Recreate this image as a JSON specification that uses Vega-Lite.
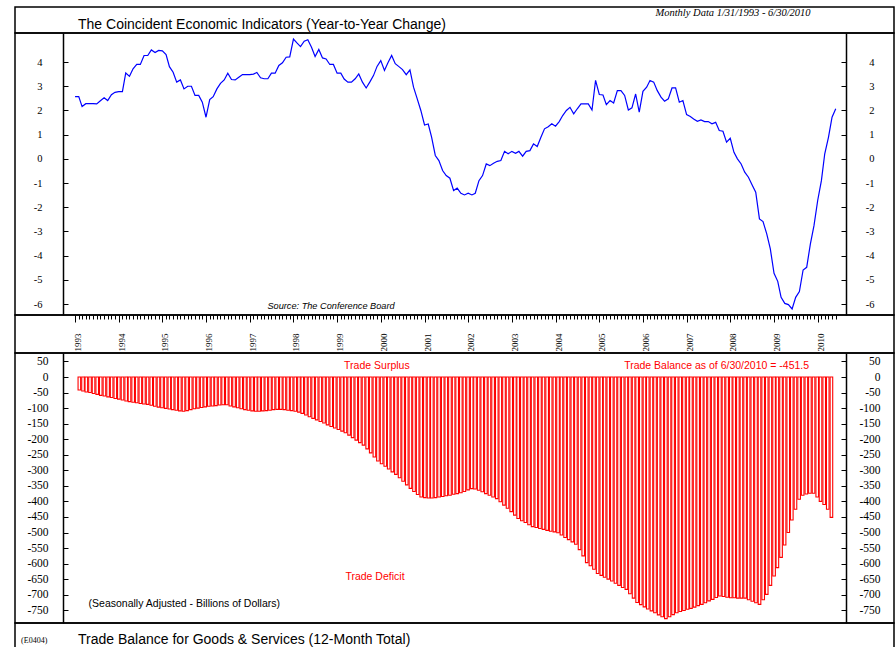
{
 "$schema": "https://vega.github.io/schema/vega-lite/v6.json",
 "background": "white",
 "padding": {"left": 14, "top": 6, "right": 0, "bottom": 0},
 "autosize": {"type": "pad"},
 "spacing": 0,
 "bounds": "flush",
 "resolve": {"scale": {"x": "independent", "y": "independent"}},
 "config": {
  "view": {"stroke": "black", "strokeWidth": 1.5},
  "font": "Liberation Sans",
  "axis": {"grid": false, "domain": false, "labelColor": "black", "tickColor": "black", "title": null, "labelOverlap": false}
 },
 "datasets": {"rows": [
{"d":"1993-01-01","c":2.57,"t":-42},{"d":"1993-02-01","c":2.57,"t":-45},{"d":"1993-03-01","c":2.16,"t":-48},{"d":"1993-04-01","c":2.28,"t":-50},{"d":"1993-05-01","c":2.28,"t":-53},{"d":"1993-06-01","c":2.28,"t":-56},{"d":"1993-07-01","c":2.27,"t":-59},{"d":"1993-08-01","c":2.40,"t":-61},{"d":"1993-09-01","c":2.52,"t":-64},{"d":"1993-10-01","c":2.41,"t":-66},{"d":"1993-11-01","c":2.65,"t":-69},{"d":"1993-12-01","c":2.75,"t":-71},
{"d":"1994-01-01","c":2.78,"t":-74},{"d":"1994-02-01","c":2.78,"t":-77},{"d":"1994-03-01","c":3.55,"t":-79},{"d":"1994-04-01","c":3.41,"t":-81},{"d":"1994-05-01","c":3.72,"t":-83},{"d":"1994-06-01","c":3.90,"t":-85},{"d":"1994-07-01","c":3.90,"t":-87},{"d":"1994-08-01","c":4.27,"t":-88},{"d":"1994-09-01","c":4.27,"t":-91},{"d":"1994-10-01","c":4.50,"t":-94},{"d":"1994-11-01","c":4.39,"t":-97},{"d":"1994-12-01","c":4.48,"t":-99},
{"d":"1995-01-01","c":4.46,"t":-101},{"d":"1995-02-01","c":4.31,"t":-103},{"d":"1995-03-01","c":3.81,"t":-105},{"d":"1995-04-01","c":3.58,"t":-107},{"d":"1995-05-01","c":3.17,"t":-109},{"d":"1995-06-01","c":3.26,"t":-110},{"d":"1995-07-01","c":2.89,"t":-108},{"d":"1995-08-01","c":3.00,"t":-105},{"d":"1995-09-01","c":3.00,"t":-102},{"d":"1995-10-01","c":2.62,"t":-100},{"d":"1995-11-01","c":2.62,"t":-98},{"d":"1995-12-01","c":2.34,"t":-96},
{"d":"1996-01-01","c":1.72,"t":-94},{"d":"1996-02-01","c":2.45,"t":-93},{"d":"1996-03-01","c":2.57,"t":-92},{"d":"1996-04-01","c":2.89,"t":-90},{"d":"1996-05-01","c":3.12,"t":-89},{"d":"1996-06-01","c":3.26,"t":-89},{"d":"1996-07-01","c":3.54,"t":-93},{"d":"1996-08-01","c":3.28,"t":-96},{"d":"1996-09-01","c":3.26,"t":-99},{"d":"1996-10-01","c":3.37,"t":-102},{"d":"1996-11-01","c":3.48,"t":-105},{"d":"1996-12-01","c":3.48,"t":-107},
{"d":"1997-01-01","c":3.48,"t":-109},{"d":"1997-02-01","c":3.50,"t":-110},{"d":"1997-03-01","c":3.57,"t":-110},{"d":"1997-04-01","c":3.35,"t":-109},{"d":"1997-05-01","c":3.31,"t":-108},{"d":"1997-06-01","c":3.31,"t":-107},{"d":"1997-07-01","c":3.54,"t":-105},{"d":"1997-08-01","c":3.54,"t":-104},{"d":"1997-09-01","c":3.86,"t":-104},{"d":"1997-10-01","c":3.97,"t":-105},{"d":"1997-11-01","c":4.20,"t":-107},{"d":"1997-12-01","c":4.21,"t":-108},
{"d":"1998-01-01","c":4.95,"t":-110},{"d":"1998-02-01","c":4.78,"t":-113},{"d":"1998-03-01","c":4.64,"t":-117},{"d":"1998-04-01","c":4.86,"t":-122},{"d":"1998-05-01","c":4.92,"t":-128},{"d":"1998-06-01","c":4.61,"t":-133},{"d":"1998-07-01","c":4.23,"t":-138},{"d":"1998-08-01","c":4.52,"t":-143},{"d":"1998-09-01","c":4.17,"t":-148},{"d":"1998-10-01","c":4.13,"t":-154},{"d":"1998-11-01","c":3.90,"t":-159},{"d":"1998-12-01","c":3.90,"t":-164},
{"d":"1999-01-01","c":3.54,"t":-169},{"d":"1999-02-01","c":3.54,"t":-174},{"d":"1999-03-01","c":3.30,"t":-179},{"d":"1999-04-01","c":3.17,"t":-187},{"d":"1999-05-01","c":3.17,"t":-195},{"d":"1999-06-01","c":3.31,"t":-203},{"d":"1999-07-01","c":3.51,"t":-211},{"d":"1999-08-01","c":3.17,"t":-219},{"d":"1999-09-01","c":2.93,"t":-231},{"d":"1999-10-01","c":3.17,"t":-244},{"d":"1999-11-01","c":3.44,"t":-257},{"d":"1999-12-01","c":3.82,"t":-270},
{"d":"2000-01-01","c":4.06,"t":-279},{"d":"2000-02-01","c":3.65,"t":-287},{"d":"2000-03-01","c":3.97,"t":-296},{"d":"2000-04-01","c":4.27,"t":-305},{"d":"2000-05-01","c":3.93,"t":-313},{"d":"2000-06-01","c":3.81,"t":-324},{"d":"2000-07-01","c":3.69,"t":-335},{"d":"2000-08-01","c":3.48,"t":-347},{"d":"2000-09-01","c":3.68,"t":-358},{"d":"2000-10-01","c":2.96,"t":-368},{"d":"2000-11-01","c":2.48,"t":-378},{"d":"2000-12-01","c":2.00,"t":-386},
{"d":"2001-01-01","c":1.40,"t":-388},{"d":"2001-02-01","c":1.44,"t":-389},{"d":"2001-03-01","c":0.90,"t":-389},{"d":"2001-04-01","c":0.14,"t":-388},{"d":"2001-05-01","c":-0.07,"t":-386},{"d":"2001-06-01","c":-0.48,"t":-384},{"d":"2001-07-01","c":-0.69,"t":-382},{"d":"2001-08-01","c":-0.80,"t":-380},{"d":"2001-09-01","c":-1.31,"t":-377},{"d":"2001-10-01","c":-1.21,"t":-375},{"d":"2001-11-01","c":-1.42,"t":-372},{"d":"2001-12-01","c":-1.49,"t":-368},
{"d":"2002-01-01","c":-1.42,"t":-363},{"d":"2002-02-01","c":-1.49,"t":-359},{"d":"2002-03-01","c":-1.42,"t":-360},{"d":"2002-04-01","c":-0.90,"t":-364},{"d":"2002-05-01","c":-0.69,"t":-369},{"d":"2002-06-01","c":-0.21,"t":-375},{"d":"2002-07-01","c":-0.28,"t":-380},{"d":"2002-08-01","c":-0.18,"t":-386},{"d":"2002-09-01","c":-0.10,"t":-391},{"d":"2002-10-01","c":-0.07,"t":-401},{"d":"2002-11-01","c":0.31,"t":-412},{"d":"2002-12-01","c":0.21,"t":-422},
{"d":"2003-01-01","c":0.31,"t":-433},{"d":"2003-02-01","c":0.23,"t":-444},{"d":"2003-03-01","c":0.31,"t":-455},{"d":"2003-04-01","c":0.11,"t":-462},{"d":"2003-05-01","c":0.31,"t":-468},{"d":"2003-06-01","c":0.34,"t":-475},{"d":"2003-07-01","c":0.62,"t":-481},{"d":"2003-08-01","c":0.51,"t":-484},{"d":"2003-09-01","c":0.89,"t":-487},{"d":"2003-10-01","c":1.24,"t":-490},{"d":"2003-11-01","c":1.33,"t":-493},{"d":"2003-12-01","c":1.45,"t":-496},
{"d":"2004-01-01","c":1.35,"t":-498},{"d":"2004-02-01","c":1.54,"t":-501},{"d":"2004-03-01","c":1.79,"t":-508},{"d":"2004-04-01","c":2.00,"t":-516},{"d":"2004-05-01","c":2.13,"t":-523},{"d":"2004-06-01","c":1.86,"t":-530},{"d":"2004-07-01","c":2.07,"t":-538},{"d":"2004-08-01","c":2.27,"t":-555},{"d":"2004-09-01","c":2.27,"t":-575},{"d":"2004-10-01","c":2.27,"t":-597},{"d":"2004-11-01","c":2.02,"t":-607},{"d":"2004-12-01","c":3.24,"t":-618},
{"d":"2005-01-01","c":2.66,"t":-632},{"d":"2005-02-01","c":2.64,"t":-638},{"d":"2005-03-01","c":2.24,"t":-644},{"d":"2005-04-01","c":2.41,"t":-650},{"d":"2005-05-01","c":2.31,"t":-656},{"d":"2005-06-01","c":2.82,"t":-663},{"d":"2005-07-01","c":2.82,"t":-670},{"d":"2005-08-01","c":2.62,"t":-677},{"d":"2005-09-01","c":2.02,"t":-683},{"d":"2005-10-01","c":2.11,"t":-697},{"d":"2005-11-01","c":2.68,"t":-711},{"d":"2005-12-01","c":1.93,"t":-725},
{"d":"2006-01-01","c":2.79,"t":-732},{"d":"2006-02-01","c":2.96,"t":-739},{"d":"2006-03-01","c":3.24,"t":-746},{"d":"2006-04-01","c":3.17,"t":-752},{"d":"2006-05-01","c":2.82,"t":-758},{"d":"2006-06-01","c":2.55,"t":-765},{"d":"2006-07-01","c":2.38,"t":-771},{"d":"2006-08-01","c":2.48,"t":-777},{"d":"2006-09-01","c":2.93,"t":-771},{"d":"2006-10-01","c":2.93,"t":-764},{"d":"2006-11-01","c":2.34,"t":-758},{"d":"2006-12-01","c":2.41,"t":-754},
{"d":"2007-01-01","c":1.83,"t":-751},{"d":"2007-02-01","c":1.75,"t":-747},{"d":"2007-03-01","c":1.65,"t":-744},{"d":"2007-04-01","c":1.55,"t":-740},{"d":"2007-05-01","c":1.61,"t":-735},{"d":"2007-06-01","c":1.54,"t":-731},{"d":"2007-07-01","c":1.54,"t":-726},{"d":"2007-08-01","c":1.45,"t":-720},{"d":"2007-09-01","c":1.51,"t":-715},{"d":"2007-10-01","c":1.17,"t":-709},{"d":"2007-11-01","c":1.14,"t":-704},{"d":"2007-12-01","c":0.69,"t":-706},
{"d":"2008-01-01","c":0.85,"t":-708},{"d":"2008-02-01","c":0.27,"t":-710},{"d":"2008-03-01","c":0.00,"t":-710},{"d":"2008-04-01","c":-0.21,"t":-711},{"d":"2008-05-01","c":-0.55,"t":-711},{"d":"2008-06-01","c":-0.76,"t":-711},{"d":"2008-07-01","c":-1.07,"t":-716},{"d":"2008-08-01","c":-1.38,"t":-721},{"d":"2008-09-01","c":-2.48,"t":-726},{"d":"2008-10-01","c":-2.59,"t":-731},{"d":"2008-11-01","c":-3.10,"t":-716},{"d":"2008-12-01","c":-3.72,"t":-699},
{"d":"2009-01-01","c":-4.73,"t":-670},{"d":"2009-02-01","c":-5.06,"t":-640},{"d":"2009-03-01","c":-5.72,"t":-613},{"d":"2009-04-01","c":-5.97,"t":-580},{"d":"2009-05-01","c":-6.02,"t":-540},{"d":"2009-06-01","c":-6.20,"t":-500},{"d":"2009-07-01","c":-5.72,"t":-460},{"d":"2009-08-01","c":-5.48,"t":-425},{"d":"2009-09-01","c":-4.59,"t":-393},{"d":"2009-10-01","c":-4.48,"t":-380},{"d":"2009-11-01","c":-3.51,"t":-376},{"d":"2009-12-01","c":-2.76,"t":-374},
{"d":"2010-01-01","c":-1.72,"t":-374},{"d":"2010-02-01","c":-0.90,"t":-386},{"d":"2010-03-01","c":0.21,"t":-400},{"d":"2010-04-01","c":0.89,"t":-410},{"d":"2010-05-01","c":1.72,"t":-425},{"d":"2010-06-01","c":2.07,"t":-451.5}
 ]},
 "vconcat": [
  {
   "width": 879, "height": 26,
   "data": {"values": [{}]},
   "layer": [
    {
     "mark": {"type": "text", "text": "The Coincident Economic Indicators (Year-to-Year Change)", "align": "left", "baseline": "alphabetic", "dy": 8.7, "font": "Liberation Sans", "fontSize": 14, "color": "black"},
     "encoding": {"x": {"datum": {"year": 1993, "month": 1, "date": 26, "utc": true}, "type": "temporal",
                        "scale": {"type": "utc", "domain": [{"year": 1991, "month": 8, "date": 18, "utc": true}, {"year": 2011, "month": 10, "date": 1, "utc": true}]}, "axis": null}}
    },
    {
     "mark": {"type": "text", "text": "Monthly Data 1/31/1993 - 6/30/2010", "align": "center", "baseline": "alphabetic", "dy": -4, "font": "Liberation Serif", "fontStyle": "italic", "fontSize": 10.5, "color": "black"},
     "encoding": {"x": {"datum": {"year": 2008, "month": 1, "date": 24, "utc": true}, "type": "temporal"}}
    }
   ]
  },
  {
   "width": 879, "height": 282,
   "layer": [
    {
     "data": {"name": "rows"},
     "mark": {"type": "line", "color": "#0000ff", "strokeWidth": 1.2},
     "encoding": {
      "x": {"field": "d", "type": "temporal",
            "scale": {"type": "utc", "domain": [{"year": 1991, "month": 8, "date": 18, "utc": true}, {"year": 2011, "month": 10, "date": 1, "utc": true}]},
            "axis": {"orient": "bottom", "tickCount": {"interval": "month", "step": 1},
                     "labelExpr": "utcmonth(datum.value) == 0 && datum.value >= utc(1993,0,1) && datum.value <= utc(2010,5,30) ? '' + utcyear(datum.value) : ''",
                     "labelAngle": 270, "labelFont": "Liberation Serif", "labelFontSize": 9,
                     "labelPadding": 11, "labelOffset": 2.5, "labelFlush": false, "labelBound": false,
                     "tickSize": {"condition": {"test": "utcmonth(datum.value) == 0", "value": 7}, "value": 4},
                     "tickOpacity": {"condition": {"test": "datum.value < utc(1993,0,1) || datum.value > utc(2010,5,15)", "value": 0}, "value": 1}}},
      "y": {"field": "c", "type": "quantitative",
            "scale": {"domain": [-6.45, 5.2], "nice": false, "zero": false},
            "axis": {"orient": "left", "offset": -48, "domain": true, "domainColor": "black", "domainWidth": 1.5, "values": [-6, -5, -4, -3, -2, -1, 0, 1, 2, 3, 4], "labelExpr": "'' + datum.value", "labelOverlap": false, "tickSize": -5, "labelPadding": 26, "labelFont": "Liberation Serif", "labelFontSize": 10.5}}
     }
    },
    {
     "data": {"name": "rows"},
     "mark": {"type": "line", "opacity": 0},
     "encoding": {
      "x": {"field": "d", "type": "temporal"},
      "y": {"field": "c", "type": "quantitative",
            "scale": {"domain": [-6.45, 5.2], "nice": false, "zero": false},
            "axis": {"orient": "right", "offset": -48, "domain": true, "domainColor": "black", "domainWidth": 1.5, "values": [-6, -5, -4, -3, -2, -1, 0, 1, 2, 3, 4], "labelExpr": "'' + datum.value", "labelOverlap": false, "tickSize": -5, "labelPadding": 33, "labelAlign": "right", "labelFont": "Liberation Serif", "labelFontSize": 10.5}}
     }
    },
    {
     "data": {"values": [{}]},
     "mark": {"type": "text", "text": "Source: The Conference Board", "font": "Liberation Sans", "fontStyle": "italic", "fontSize": 9.2, "color": "black"},
     "encoding": {
      "x": {"datum": {"year": 1998, "month": 11, "date": 11, "utc": true}, "type": "temporal"},
      "y": {"datum": -6.09, "type": "quantitative", "scale": {"domain": [-6.45, 5.2], "nice": false, "zero": false}, "axis": null}
     }
    }
   ],
   "resolve": {"scale": {"y": "independent"}}
  },
  {
   "width": 879, "height": 38,
   "data": {"values": [{}]},
   "mark": {"type": "text", "text": ""},
   "encoding": {"x": {"datum": {"year": 2000, "month": 1, "date": 1, "utc": true}, "type": "temporal",
                      "scale": {"type": "utc", "domain": [{"year": 1991, "month": 8, "date": 18, "utc": true}, {"year": 2011, "month": 10, "date": 1, "utc": true}]}, "axis": null}}
  },
  {
   "width": 879, "height": 270,
   "layer": [
    {
     "data": {"name": "rows"},
     "mark": {"type": "bar", "width": 2.6, "fill": "white", "stroke": "#ff0000", "strokeWidth": 1.1},
     "encoding": {
      "x": {"field": "d", "type": "temporal",
            "scale": {"type": "utc", "domain": [{"year": 1991, "month": 8, "date": 18, "utc": true}, {"year": 2011, "month": 10, "date": 1, "utc": true}]},
            "axis": null},
      "y": {"field": "t", "type": "quantitative",
            "scale": {"domain": [-791, 77.2], "nice": false, "zero": false},
            "axis": {"orient": "left", "offset": -48, "domain": true, "domainColor": "black", "domainWidth": 1.5, "values": [50, 0, -50, -100, -150, -200, -250, -300, -350, -400, -450, -500, -550, -600, -650, -700, -750], "labelExpr": "'' + datum.value", "labelOverlap": false, "tickSize": -5, "labelPadding": 20, "labelFont": "Liberation Serif", "labelFontSize": 11.5}}
     }
    },
    {
     "data": {"name": "rows"},
     "mark": {"type": "line", "opacity": 0},
     "encoding": {
      "x": {"field": "d", "type": "temporal"},
      "y": {"field": "t", "type": "quantitative",
            "scale": {"domain": [-791, 77.2], "nice": false, "zero": false},
            "axis": {"orient": "right", "offset": -48, "domain": true, "domainColor": "black", "domainWidth": 1.5, "values": [50, 0, -50, -100, -150, -200, -250, -300, -350, -400, -450, -500, -550, -600, -650, -700, -750], "labelExpr": "'' + datum.value", "labelOverlap": false, "tickSize": -5, "labelPadding": 39, "labelAlign": "right", "labelFont": "Liberation Serif", "labelFontSize": 11.5}}
     }
    },
    {
     "data": {"values": [{}]},
     "mark": {"type": "text", "text": "Trade Surplus", "font": "Liberation Sans", "fontSize": 10.5, "color": "#ff0000"},
     "encoding": {"x": {"datum": {"year": 1999, "month": 11, "date": 22, "utc": true}, "type": "temporal"},
                  "y": {"datum": 35, "type": "quantitative", "scale": {"domain": [-791, 77.2], "nice": false, "zero": false}, "axis": null}}
    },
    {
     "data": {"values": [{}]},
     "mark": {"type": "text", "text": "Trade Balance as of 6/30/2010 = -451.5", "font": "Liberation Sans", "fontSize": 10.5, "color": "#ff0000"},
     "encoding": {"x": {"datum": {"year": 2007, "month": 10, "date": 4, "utc": true}, "type": "temporal"},
                  "y": {"datum": 35, "type": "quantitative", "scale": {"domain": [-791, 77.2], "nice": false, "zero": false}, "axis": null}}
    },
    {
     "data": {"values": [{}]},
     "mark": {"type": "text", "text": "Trade Deficit", "font": "Liberation Sans", "fontSize": 10.5, "color": "#ff0000"},
     "encoding": {"x": {"datum": {"year": 1999, "month": 11, "date": 6, "utc": true}, "type": "temporal"},
                  "y": {"datum": -643, "type": "quantitative", "scale": {"domain": [-791, 77.2], "nice": false, "zero": false}, "axis": null}}
    },
    {
     "data": {"values": [{}]},
     "mark": {"type": "text", "text": "(Seasonally Adjusted - Billions of Dollars)", "align": "left", "font": "Liberation Sans", "fontSize": 10.5, "color": "black"},
     "encoding": {"x": {"datum": {"year": 1993, "month": 3, "date": 20, "utc": true}, "type": "temporal"},
                  "y": {"datum": -729, "type": "quantitative", "scale": {"domain": [-791, 77.2], "nice": false, "zero": false}, "axis": null}}
    }
   ],
   "resolve": {"scale": {"y": "independent"}}
  },
  {
   "width": 879, "height": 25,
   "data": {"values": [{}]},
   "layer": [
    {
     "mark": {"type": "text", "text": "Trade Balance for Goods & Services (12-Month Total)", "align": "left", "baseline": "alphabetic", "dy": 8.5, "font": "Liberation Sans", "fontSize": 14, "color": "black"},
     "encoding": {"x": {"datum": {"year": 1993, "month": 1, "date": 26, "utc": true}, "type": "temporal",
                        "scale": {"type": "utc", "domain": [{"year": 1991, "month": 8, "date": 18, "utc": true}, {"year": 2011, "month": 10, "date": 1, "utc": true}]}, "axis": null}}
    },
    {
     "mark": {"type": "text", "text": "(E0404)", "font": "Liberation Serif", "fontSize": 8, "align": "left", "baseline": "alphabetic", "dy": 7.5, "color": "black"},
     "encoding": {"x": {"datum": {"year": 1991, "month": 10, "date": 8, "utc": true}, "type": "temporal"}}
    }
   ]
  }
 ]
}
